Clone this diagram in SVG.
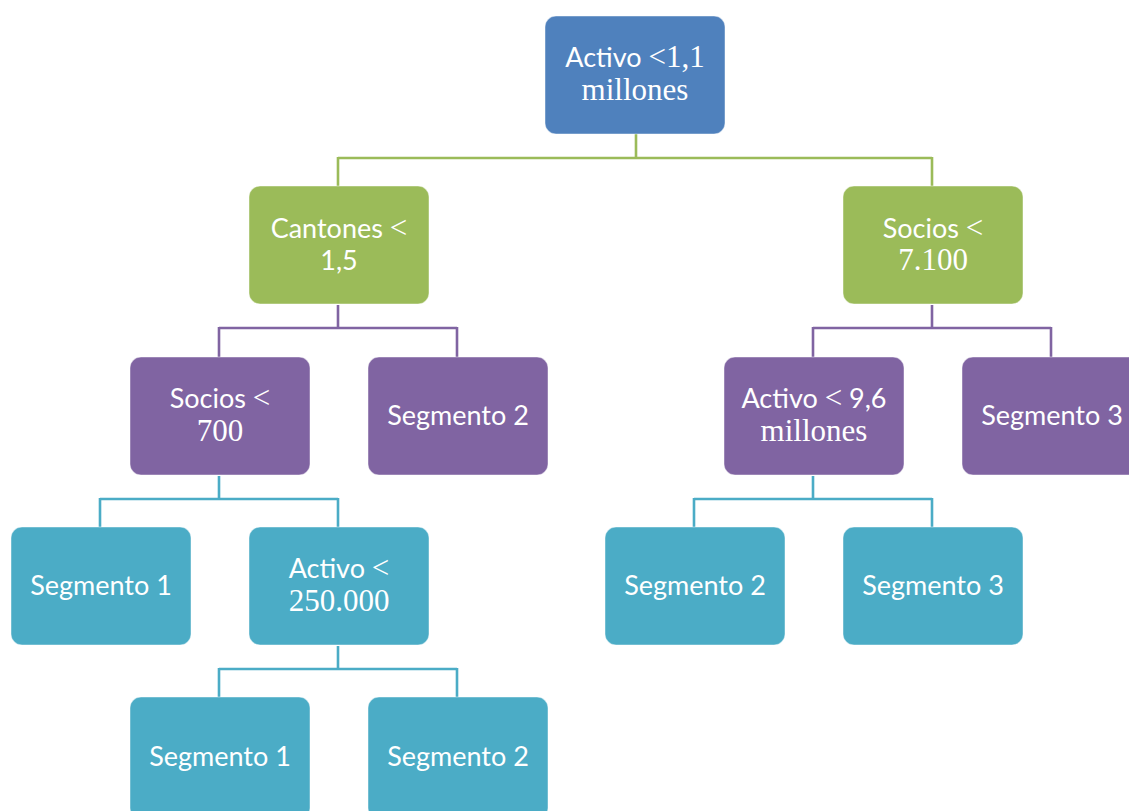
<svg xmlns="http://www.w3.org/2000/svg" width="1129" height="811" viewBox="0 0 1129 811">
  <style>
    .node { stroke: #ffffff; stroke-opacity: 0.45; stroke-width: 1; }
    .blue { fill: #4F81BD; }
    .green { fill: #9BBB59; }
    .purple { fill: #8064A2; }
    .cyan { fill: #4BACC6; }
    .lbl { font-family: Lato, "Open Sans", "Liberation Sans", sans-serif; font-size: 27px; fill: #ffffff; text-anchor: middle; }
    .m { font-family: "Liberation Serif", "DejaVu Serif", serif; font-size: 31px; }
    .conn { fill: none; stroke-width: 2.6; }
    .c-green { stroke: #9BBB59; }
    .c-purple { stroke: #8064A2; }
    .c-cyan { stroke: #4BACC6; }
  </style>

  <rect width="1129" height="811" fill="#ffffff"/>

  <!-- elbow connectors between levels -->
  <g id="connectors">
    <path class="conn c-green" d="M636 134 V158 M338 158 H932 M338 157 V186 M932 157 V186"/>
    <path class="conn c-purple" d="M338 305 V328 M219 328 H457 M219 327 V357 M457 327 V357"/>
    <path class="conn c-purple" d="M932 305 V328 M813 328 H1051 M813 327 V357 M1051 327 V357"/>
    <path class="conn c-cyan" d="M219 476 V499 M100 499 H338 M100 498 V527 M338 498 V527"/>
    <path class="conn c-cyan" d="M813 476 V499 M694 499 H932 M694 498 V527 M932 498 V527"/>
    <path class="conn c-cyan" d="M338 646 V669 M219 669 H457 M219 668 V697 M457 668 V697"/>
  </g>

  <!-- level 0 -->
  <g id="n-root">
    <rect class="node blue" x="545" y="16" width="180" height="118" rx="11"/>
    <text class="lbl" x="635" y="67">Activo <tspan class="m">&lt;1,1</tspan></text>
    <text class="lbl m" x="635" y="100">millones</text>
  </g>

  <!-- level 1 -->
  <g id="n-cantones">
    <rect class="node green" x="249" y="186" width="180" height="118" rx="11"/>
    <text class="lbl" x="339" y="238">Cantones <tspan class="m">&lt;</tspan></text>
    <text class="lbl" x="339" y="270">1,5</text>
  </g>
  <g id="n-socios-7100">
    <rect class="node green" x="843" y="186" width="180" height="118" rx="11"/>
    <text class="lbl" x="933" y="238">Socios <tspan class="m">&lt;</tspan></text>
    <text class="lbl m" x="933" y="270">7.100</text>
  </g>

  <!-- level 2 -->
  <g id="n-socios-700">
    <rect class="node purple" x="130" y="357" width="180" height="118" rx="11"/>
    <text class="lbl" x="220" y="408">Socios <tspan class="m">&lt;</tspan></text>
    <text class="lbl m" x="220" y="441">700</text>
  </g>
  <g id="n-seg2-a">
    <rect class="node purple" x="368" y="357" width="180" height="118" rx="11"/>
    <text class="lbl" x="458" y="425">Segmento 2</text>
  </g>
  <g id="n-activo-96">
    <rect class="node purple" x="724" y="357" width="180" height="118" rx="11"/>
    <text class="lbl" x="814" y="408">Activo <tspan class="m">&lt;</tspan> 9,6</text>
    <text class="lbl m" x="814" y="441">millones</text>
  </g>
  <g id="n-seg3-a">
    <rect class="node purple" x="962" y="357" width="180" height="118" rx="11"/>
    <text class="lbl" x="1052" y="425">Segmento 3</text>
  </g>

  <!-- level 3 -->
  <g id="n-seg1-a">
    <rect class="node cyan" x="11" y="527" width="180" height="118" rx="11"/>
    <text class="lbl" x="101" y="595">Segmento 1</text>
  </g>
  <g id="n-activo-250">
    <rect class="node cyan" x="249" y="527" width="180" height="118" rx="11"/>
    <text class="lbl" x="339" y="578">Activo <tspan class="m">&lt;</tspan></text>
    <text class="lbl m" x="339" y="611">250.000</text>
  </g>
  <g id="n-seg2-b">
    <rect class="node cyan" x="605" y="527" width="180" height="118" rx="11"/>
    <text class="lbl" x="695" y="595">Segmento 2</text>
  </g>
  <g id="n-seg3-b">
    <rect class="node cyan" x="843" y="527" width="180" height="118" rx="11"/>
    <text class="lbl" x="933" y="595">Segmento 3</text>
  </g>

  <!-- level 4 -->
  <g id="n-seg1-b">
    <rect class="node cyan" x="130" y="697" width="180" height="122" rx="11"/>
    <text class="lbl" x="220" y="766">Segmento 1</text>
  </g>
  <g id="n-seg2-c">
    <rect class="node cyan" x="368" y="697" width="180" height="122" rx="11"/>
    <text class="lbl" x="458" y="766">Segmento 2</text>
  </g>
</svg>
